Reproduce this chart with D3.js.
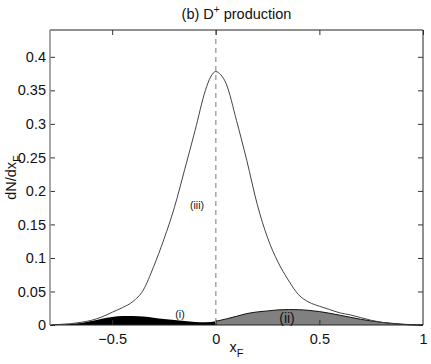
<!DOCTYPE html>
<html><head><meta charset="utf-8">
<script src="https://cdn.jsdelivr.net/npm/d3@7"></script>
<style>body{margin:0;background:#fff;} text{font-family:"Liberation Sans",Arial,sans-serif;fill:#111;}</style>
</head><body>
<svg id="c" width="431" height="364"></svg>
<script>
// ---- data ----
const xTicks = [-0.5, 0, 0.5, 1];
const yTicks = [0, 0.05, 0.1, 0.15, 0.2, 0.25, 0.3, 0.35, 0.4];
const xTickLabels = ["\u22120.5", "0", "0.5", "1"];
const yTickLabels = ["0", "0.05", "0.1", "0.15", "0.2", "0.25", "0.3", "0.35", "0.4"];

// curve (iii): outline
const lineX = [-0.8,-0.75,-0.7,-0.65,-0.6,-0.55,-0.5,-0.45,-0.4,-0.35,-0.3,-0.25,-0.2,-0.15,-0.1,-0.05,-0.025,0,0.025,0.05,0.1,0.15,0.2,0.25,0.3,0.35,0.4,0.45,0.5,0.55,0.6,0.65,0.7,0.75,0.8,0.85,0.9,0.95,1.0];
const lineY = [0.000,0.001,0.002,0.004,0.007,0.012,0.019,0.026,0.035,0.052,0.087,0.128,0.175,0.232,0.290,0.350,0.370,0.378,0.373,0.360,0.305,0.245,0.180,0.130,0.094,0.067,0.045,0.034,0.028,0.023,0.018,0.015,0.011,0.007,0.004,0.002,0.001,0.000,0.000];

// region (i): black, x <= 0
const blackX = [-0.8,-0.75,-0.7,-0.65,-0.6,-0.55,-0.5,-0.45,-0.4,-0.35,-0.3,-0.25,-0.2,-0.15,-0.1,-0.05,0];
const blackY = [0.000,0.0005,0.0015,0.003,0.006,0.0095,0.012,0.0135,0.0135,0.0125,0.011,0.009,0.0075,0.006,0.0045,0.004,0.0055];

// region (ii): grey, x >= 0
const greyX = [0,0.05,0.1,0.15,0.2,0.25,0.3,0.35,0.4,0.45,0.5,0.55,0.6,0.65,0.7,0.75,0.8,0.85,0.9,0.95,1.0];
const greyY = [0.0055,0.009,0.013,0.017,0.0195,0.021,0.0225,0.023,0.0228,0.0218,0.020,0.0175,0.0145,0.0115,0.0085,0.006,0.004,0.0025,0.0012,0.0004,0.0000];

// ---- layout ----
const L = 50, R = 423, T = 30, B = 325;
const FS = "14.5px";
const svg = d3.select("#c");
const x = d3.scaleLinear().domain([-0.8, 1]).range([L, R]);
const y = d3.scaleLinear().domain([0, 0.44]).range([B, T]);

const area = d3.area().x(d => x(d[0])).y0(y(0)).y1(d => y(d[1])).curve(d3.curveMonotoneX);
const line = d3.line().x(d => x(d[0])).y(d => y(d[1])).curve(d3.curveMonotoneX);

const blk = d3.zip(blackX, blackY), gry = d3.zip(greyX, greyY), ln = d3.zip(lineX, lineY);

svg.append("path").attr("d", area(blk)).attr("fill", "#000");
svg.append("path").attr("d", area(gry)).attr("fill", "#808080");
svg.append("path").attr("d", line(gry)).attr("fill", "none").attr("stroke", "#111").attr("stroke-width", 1);
svg.append("path").attr("d", line(ln)).attr("fill", "none").attr("stroke", "#444").attr("stroke-width", 1);

// dashed vertical at 0
svg.append("line").attr("x1", x(0)).attr("x2", x(0)).attr("y1", T).attr("y2", B)
  .attr("stroke", "#aaa").attr("stroke-width", 1.6).attr("stroke-dasharray", "5,4");

// axes (box, inward ticks)
const gB = svg.append("g").attr("transform", `translate(0,${B})`)
  .call(d3.axisBottom(x).tickValues(xTicks).tickSizeInner(-5).tickSizeOuter(0).tickPadding(9).tickFormat((d,i) => xTickLabels[i]));
const gT = svg.append("g").attr("transform", `translate(0,${T})`)
  .call(d3.axisTop(x).tickValues(xTicks).tickSizeInner(-5).tickSizeOuter(0).tickFormat(""));
const gL = svg.append("g").attr("transform", `translate(${L},0)`)
  .call(d3.axisLeft(y).tickValues(yTicks).tickSizeInner(-5).tickSizeOuter(0).tickPadding(4).tickFormat((d,i) => yTickLabels[i]));
const gR = svg.append("g").attr("transform", `translate(${R},0)`)
  .call(d3.axisRight(y).tickValues(yTicks).tickSizeInner(-5).tickSizeOuter(0).tickFormat(""));
[gB, gT, gL, gR].forEach(g => {
  g.selectAll(".domain").remove();
  g.selectAll(".tick line").attr("stroke", "#333");
  g.selectAll("text").style("font-size", FS).attr("fill", "#111");
});
gB.selectAll(".tick").filter(d => d === 1).selectAll("line").remove();
svg.append("line").attr("x1", L).attr("x2", R).attr("y1", T).attr("y2", T).attr("stroke", "#222");
svg.append("line").attr("x1", L).attr("x2", R).attr("y1", B).attr("y2", B).attr("stroke", "#222");
svg.append("line").attr("x1", R).attr("x2", R).attr("y1", T).attr("y2", B).attr("stroke", "#222");
svg.append("line").attr("x1", L).attr("x2", L).attr("y1", T).attr("y2", B).attr("stroke", "#888").attr("stroke-width", 1.5);

// title
const title = svg.append("text").attr("x", (L + R) / 2).attr("y", 19).attr("text-anchor", "middle").style("font-size", FS);
title.append("tspan").text("(b) D");
title.append("tspan").attr("dy", -6).style("font-size", "10px").text("+");
title.append("tspan").attr("dy", 6).text(" production");

// x label
const xl = svg.append("text").attr("x", (L + R) / 2).attr("y", 352).attr("text-anchor", "middle").style("font-size", FS);
xl.append("tspan").text("x");
xl.append("tspan").attr("dy", 5).style("font-size", "11px").text("F");

// y label
const yl = svg.append("text").attr("transform", `translate(16,${(T + B) / 2}) rotate(-90)`).attr("text-anchor", "middle").style("font-size", FS);
yl.append("tspan").text("dN/dx");
yl.append("tspan").attr("dy", 5).style("font-size", "11px").text("F");

// curve labels
svg.append("text").attr("x", 180).attr("y", 318).attr("text-anchor", "middle").style("font-size", "10.5px").text("(i)");
svg.append("text").attr("x", 287).attr("y", 323).attr("text-anchor", "middle").style("font-size", "14px").text("(ii)");
svg.append("text").attr("x", 197).attr("y", 209).attr("text-anchor", "middle").style("font-size", "10.5px").text("(iii)");
</script>
</body></html>
